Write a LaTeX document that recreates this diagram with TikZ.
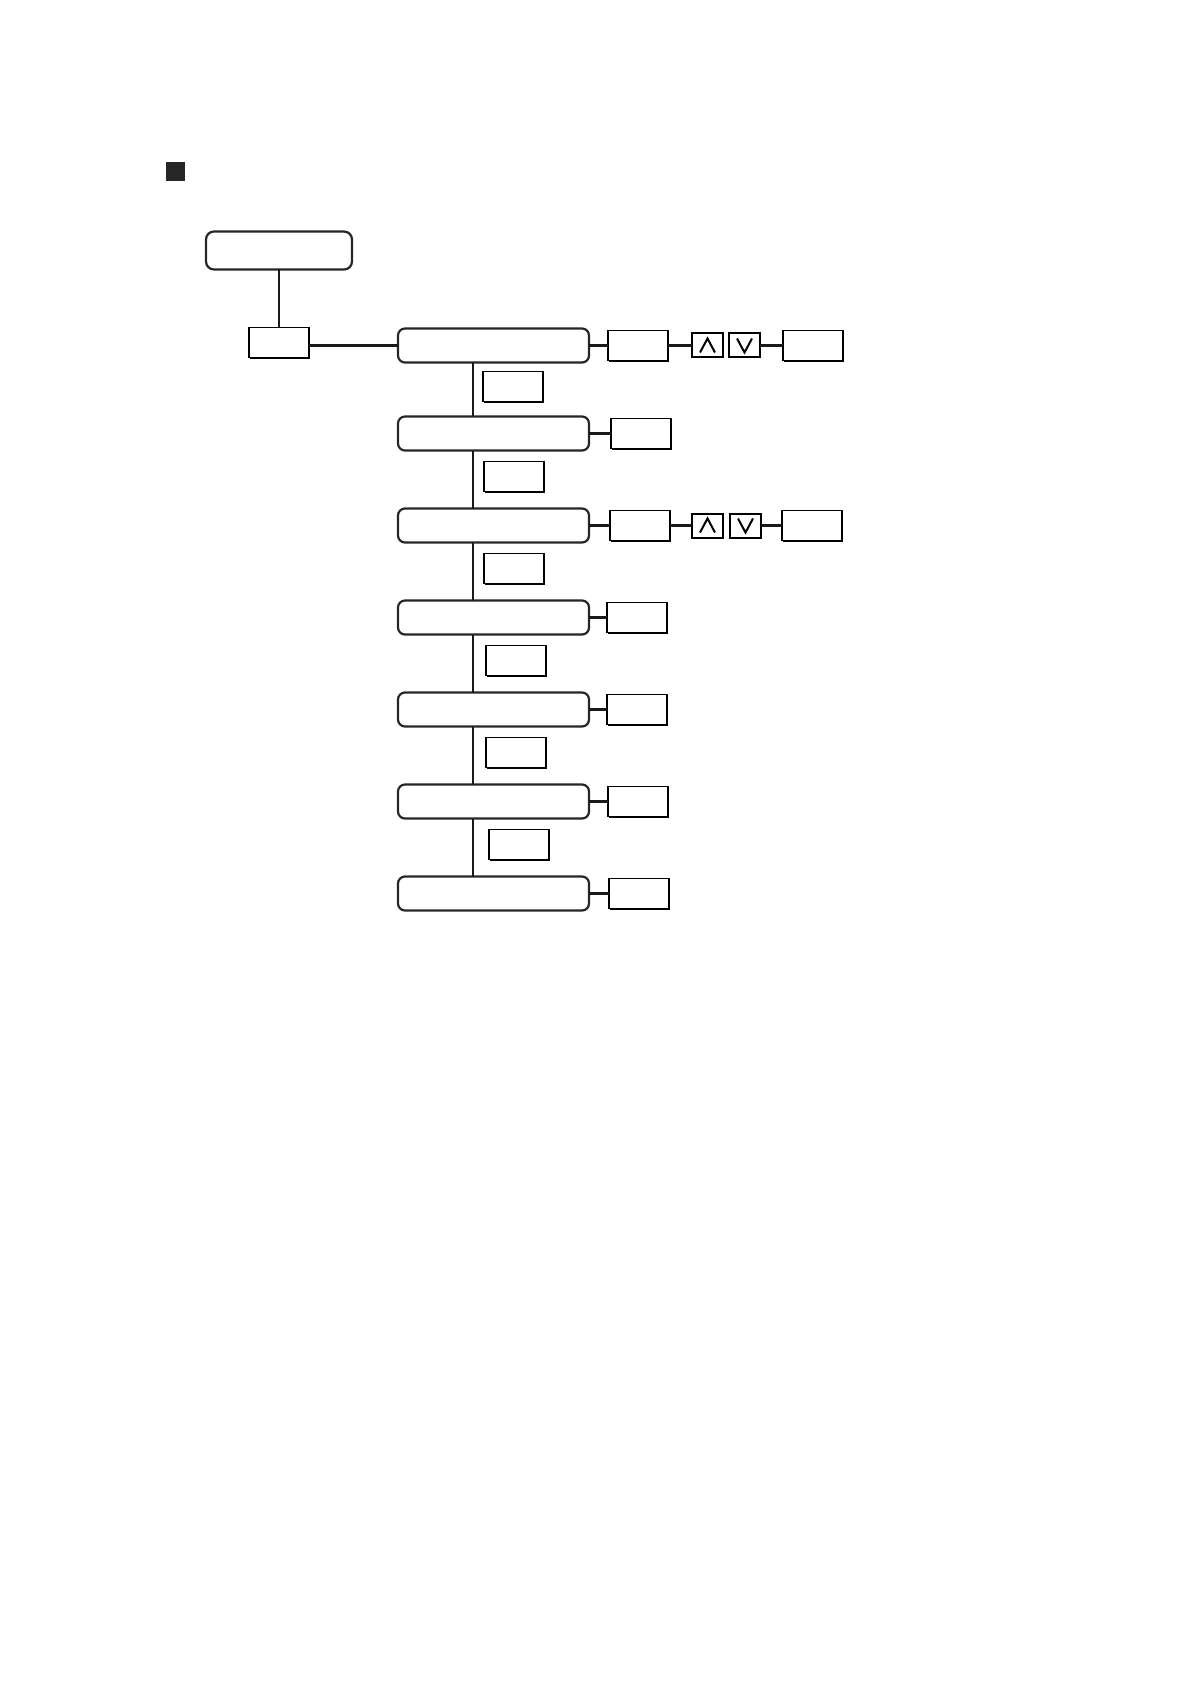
\documentclass[tikz,border=0pt]{standalone}
\usetikzlibrary{positioning,calc,shadows}
\begin{document}
\begin{tikzpicture}[node distance=29pt and 10pt,outer sep=0pt,
menubox/.style={draw=black!85,line width=1.1pt,rounded corners=3.5pt,minimum width=95.5pt,minimum height=17pt,inner sep=0pt,outer sep=0pt},
keybox/.style={draw,line width=0.7pt,fill=white,minimum width=30pt,minimum height=15pt,inner sep=0pt,outer sep=0pt,
  drop shadow={shadow xshift=0.7pt,shadow yshift=-0.7pt,opacity=1,fill=black}},
btnbox/.style={draw,line width=1pt,fill=white,minimum width=15.5pt,minimum height=12pt,inner sep=0pt,outer sep=0pt},
upkey/.style={btnbox,path picture={\draw[line width=1pt]
  ([shift={(4pt,2.5pt)}]path picture bounding box.south west)--([yshift=-2.5pt]path picture bounding box.north)--([shift={(-4pt,2.5pt)}]path picture bounding box.south east);}},
downkey/.style={btnbox,path picture={\draw[line width=1pt]
  ([shift={(4pt,-2.5pt)}]path picture bounding box.north west)--([yshift=2.5pt]path picture bounding box.south)--([shift={(-4pt,-2.5pt)}]path picture bounding box.north east);}},
link/.style={draw=black!90,line width=1.1pt}]
\useasboundingbox (0,0) rectangle (595pt,-842pt);
\node[fill=black!85,minimum size=9.5pt,inner sep=0pt] (bullet) at (87.75pt,-85.75pt) {};
% main column
\node[menubox] (r1) at (246.75pt,-172.75pt) {};
\node[menubox,below=27pt of r1] (r2) {};
\node[menubox,below=of r2] (r3) {};
\node[menubox,below=of r3] (r4) {};
\node[menubox,below=of r4] (r5) {};
\node[menubox,below=of r5] (r6) {};
\node[menubox,below=of r6] (r7) {};
\node[keybox,left=44.5pt of r1,yshift=1.5pt] (menu) {};
\node[menubox,minimum width=73pt,minimum height=19pt,rounded corners=4pt,above=29pt of menu] (top) {};
% side keys
\node[keybox,right=9.5pt of r1] (s1) {};
\node[upkey,right=12pt of s1] (up1) {};
\node[downkey,right=3pt of up1] (dn1) {};
\node[keybox,right=11.5pt of dn1] (e1) {};
\node[keybox,right=11pt of r2] (s2) {};
\node[keybox,right=10.5pt of r3] (s3) {};
\node[upkey,right=11pt of s3] (up3) {};
\node[downkey,right=3.5pt of up3] (dn3) {};
\node[keybox,right=10.5pt of dn3] (e3) {};
\node[keybox,right=9pt of r4] (s4) {};
\node[keybox,right=9pt of r5] (s5) {};
\node[keybox,right=9.5pt of r6] (s6) {};
\node[keybox,right=10pt of r7] (s7) {};
% trunk and keys between rows
\coordinate (trunk) at ([xshift=37.5pt]r1.south west);
\node[keybox,anchor=west] (k1) at ($(r1.south -| trunk)!0.45!(r2.north -| trunk)+(5pt,0)$) {};
\node[keybox,anchor=west] (k2) at ($(r2.south -| trunk)!0.45!(r3.north -| trunk)+(5.5pt,0)$) {};
\node[keybox,anchor=west] (k3) at ($(r3.south -| trunk)!0.45!(r4.north -| trunk)+(5.5pt,0)$) {};
\node[keybox,anchor=west] (k4) at ($(r4.south -| trunk)!0.45!(r5.north -| trunk)+(6.5pt,0)$) {};
\node[keybox,anchor=west] (k5) at ($(r5.south -| trunk)!0.45!(r6.north -| trunk)+(6.5pt,0)$) {};
\node[keybox,anchor=west] (k6) at ($(r6.south -| trunk)!0.45!(r7.north -| trunk)+(8pt,0)$) {};
\draw[link] (top.south -| menu.north) -- (menu.north);
\draw[link] (r1.west -| menu.east) -- (r1.west);
\draw[link] (r1.south -| trunk) -- (r2.north -| trunk);
\draw[link] (r2.south -| trunk) -- (r3.north -| trunk);
\draw[link] (r3.south -| trunk) -- (r4.north -| trunk);
\draw[link] (r4.south -| trunk) -- (r5.north -| trunk);
\draw[link] (r5.south -| trunk) -- (r6.north -| trunk);
\draw[link] (r6.south -| trunk) -- (r7.north -| trunk);
\draw[link] (r1.east) -- (s1.west);\draw[link] (s1) -- (up1);\draw[link] (dn1) -- (e1);
\draw[link] (r2.east) -- (s2.west);
\draw[link] (r3.east) -- (s3.west);\draw[link] (s3) -- (up3);\draw[link] (dn3) -- (e3);
\draw[link] (r4.east) -- (s4.west);
\draw[link] (r5.east) -- (s5.west);
\draw[link] (r6.east) -- (s6.west);
\draw[link] (r7.east) -- (s7.west);
\end{tikzpicture}
\end{document}
